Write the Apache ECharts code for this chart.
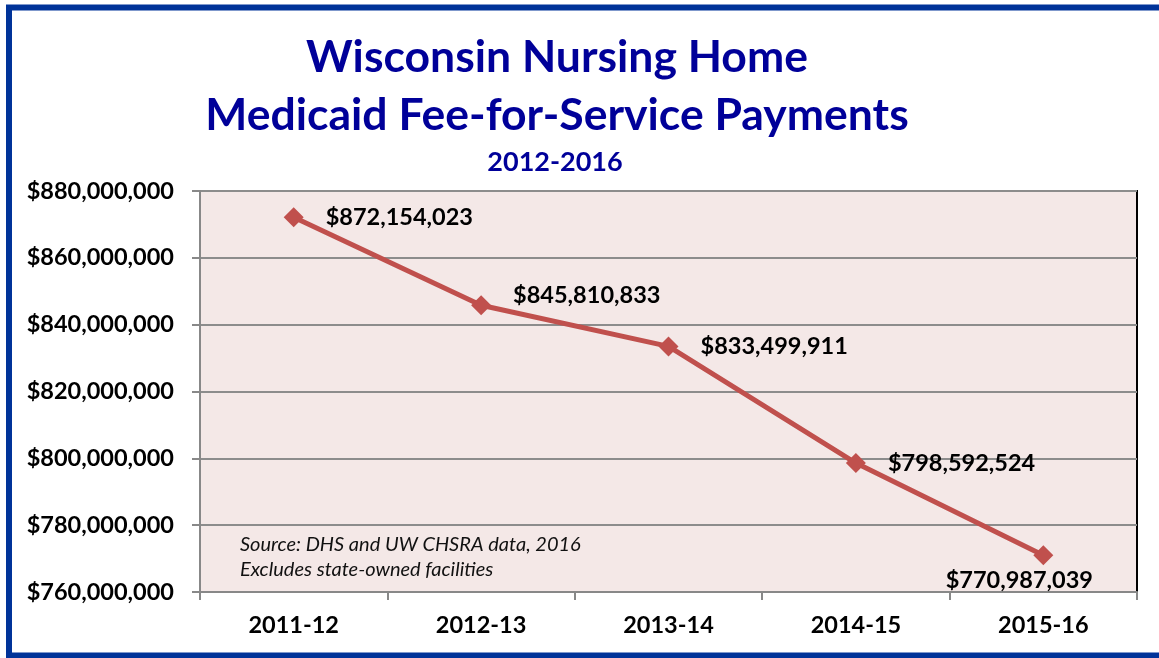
<!DOCTYPE html>
<html>
<head>
<meta charset="utf-8">
<script src="https://cdn.jsdelivr.net/npm/echarts@6/dist/echarts.min.js"></script>
<style>
html,body{margin:0;padding:0;background:#fff;}
#main{width:1159px;height:658px;}
</style>
</head>
<body>
<div id="main"></div>
<script>
// data
var years = ['2011-12', '2012-13', '2013-14', '2014-15', '2015-16'];
var payments = [872154023, 845810833, 833499911, 798592524, 770987039];
var yMin = 760000000, yMax = 880000000, yStep = 20000000;

function money(v) {
	return '$' + Math.round(v).toString().replace(/\B(?=(\d{3})+(?!\d))/g, ',');
}

var pointList = [];
for (var i = 0; i < payments.length; i++) {
	var p = { value: payments[i] };
	if (i == payments.length - 1) {//last label sits under the point
		p.label = { position: 'bottom', offset: [-24, 0], distance: 3 };
	} else if (i == 1) {
		p.label = { offset: [0, -10] };
	}
	pointList.push(p);
}

var dom = document.getElementById('main');
var myChart = echarts.init(dom);
var font = 'Lato, "Open Sans", sans-serif';

var option = {
	animation: false,
	backgroundColor: '#fff',
	textStyle: { fontFamily: font },
	title: [
		{
			text: 'Wisconsin Nursing Home\nMedicaid Fee-for-Service Payments',
			left: 552, top: 24, textAlign: 'center',
			textStyle: { color: '#000099', fontSize: 44.5, fontWeight: 'bold', lineHeight: 58, fontFamily: font }
		},
		{
			text: '2012-2016',
			left: 550, top: 144, textAlign: 'center',
			textStyle: { color: '#000099', fontSize: 27, fontWeight: 'bold', fontFamily: font }
		}
	],
	graphic: [
		{
			type: 'rect', silent: true, z: 100,
			shape: { x: 9, y: 7.5, width: 1200, height: 648 },
			style: { fill: 'none', stroke: '#003399', lineWidth: 6 }
		},
		{
			type: 'text', left: 240, top: 532,
			style: {
				text: 'Source: DHS and UW CHSRA data, 2016\nExcludes state-owned facilities',
				fontSize: 20, fontStyle: 'italic', lineHeight: 25, fill: '#111', fontFamily: font
			}
		}
	],
	grid: {
		left: 200, right: 22, top: 191, bottom: 66,
		show: true, backgroundColor: '#f4e8e7', borderColor: '#000', borderWidth: 2
	},
	xAxis: {
		type: 'category',
		data: years,
		boundaryGap: true,
		axisLine: { lineStyle: { color: '#888', width: 2 } },
		axisTick: { show: true, length: 8, lineStyle: { color: '#888', width: 2 } },
		axisLabel: { color: '#000', fontSize: 23.5, fontWeight: 'bold', margin: 21 }
	},
	yAxis: {
		type: 'value',
		min: yMin, max: yMax, interval: yStep,
		axisLine: { show: true, lineStyle: { color: '#888', width: 2 } },
		axisTick: { show: true, length: 8, lineStyle: { color: '#888', width: 2 } },
		splitLine: { lineStyle: { color: '#8c8c8c', width: 2 } },
		axisLabel: { color: '#000', fontSize: 23.5, fontWeight: 'bold', margin: 26, formatter: money }
	},
	series: [
		{
			type: 'line',
			data: pointList,
			symbol: 'diamond',
			symbolSize: 20,
			lineStyle: { color: '#c0504d', width: 5 },
			itemStyle: { color: '#c0504d' },
			label: {
				show: true, position: 'right', distance: 22,
				color: '#000', fontSize: 23.5, fontWeight: 'bold', fontFamily: font,
				formatter: function (p) { return money(p.value); }
			}
		}
	]
};

if (option && typeof option === "object") {
	myChart.setOption(option, true);
}
</script>
</body>
</html>
